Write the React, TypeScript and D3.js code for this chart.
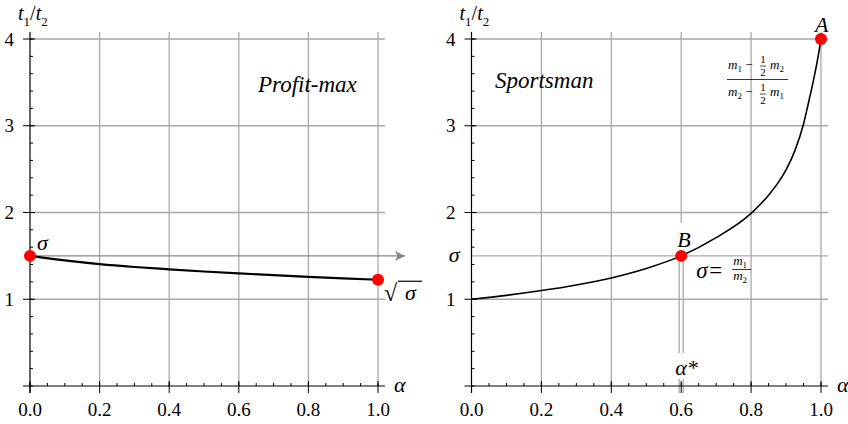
import React from "react";
import * as d3 from "d3";

// values
const alphaTicks = [0, 0.2, 0.4, 0.6, 0.8, 1.0];
const ratioTicks = [1, 2, 3, 4];
const sigma = 1.5;
const alphaStar = 0.6;

const profitAlpha = [0, 0.1, 0.2, 0.3, 0.4, 0.5, 0.6, 0.7, 0.8, 0.9, 1.0];
const profitRatio = [1.5, 1.448, 1.405, 1.372, 1.345, 1.32, 1.298, 1.278, 1.259, 1.241, 1.2247];

const sportAlpha = [0, 0.1, 0.2, 0.3, 0.4, 0.5, 0.6, 0.7, 0.8, 0.85, 0.875, 0.9, 0.925, 0.95, 0.965, 0.975, 0.99, 1.0];
const sportRatio = [1, 1.045, 1.1, 1.165, 1.246, 1.355, 1.5, 1.71, 1.99, 2.2, 2.33, 2.49, 2.71, 3.02, 3.28, 3.46, 3.76, 4.0];

const W = 848;
const H = 424;
const SERIF =
  "'Liberation Serif', 'Times New Roman', Times, Tinos, 'Nimbus Roman', 'Nimbus Roman No9 L', FreeSerif, 'Noto Serif', 'DejaVu Serif', serif";
const GRID = "#a9a9a9";

const y = d3.scaleLinear().domain([0, 4]).range([386, 39]);

type Pt = [number, number];
const zip = (a: number[], b: number[]): Pt[] => a.map((v, i) => [v, b[i]]);

function Axes({ x }: { x: d3.ScaleLinear<number, number> }) {
  const x0 = x(0);
  const y0 = y(0);
  const minorX = d3.range(0, 1.0001, 0.05);
  const minorY = d3.range(0, 4.0001, 0.2);
  return (
    <g>
      {/* x axis */}
      <line x1={x0 - 7} x2={x(1) + 7} y1={y0} y2={y0} stroke="#000" strokeWidth={1.2} />
      {minorX.map((v, i) => (
        <line key={"mx" + i} x1={x(v)} x2={x(v)} y1={y0 - 3} y2={y0} stroke="#000" strokeWidth={1} />
      ))}
      {alphaTicks.map((v) => (
        <g key={"tx" + v}>
          <line x1={x(v)} x2={x(v)} y1={y0 - 5} y2={y0 + 7} stroke="#000" strokeWidth={1} />
          <text x={x(v)} y={416} textAnchor="middle" fontSize={19}>
            {d3.format(".1f")(v)}
          </text>
        </g>
      ))}
      <text x={x(1) + 16} y={y0 + 6} fontSize={22} fontStyle="italic">α</text>

      {/* y axis */}
      <line x1={x0} x2={x0} y1={y0 + 7} y2={32} stroke="#000" strokeWidth={1.2} />
      {minorY.map((v, i) => (
        <line key={"my" + i} x1={x0} x2={x0 + 3} y1={y(v)} y2={y(v)} stroke="#000" strokeWidth={1} />
      ))}
      {ratioTicks.map((v) => (
        <g key={"ty" + v}>
          <line x1={x0 - 7} x2={x0 + 5} y1={y(v)} y2={y(v)} stroke="#000" strokeWidth={1} />
          <text x={x0 - 16} y={y(v) + 6.5} textAnchor="end" fontSize={19}>
            {v}
          </text>
        </g>
      ))}
      <text x={x0 - 12} y={20} fontSize={20} fontStyle="italic">
        t<tspan dy={6} fontSize={13} fontStyle="normal">1</tspan>
        <tspan dy={-6} fontStyle="normal">/</tspan>t
        <tspan dy={6} fontSize={13} fontStyle="normal">2</tspan>
      </text>
    </g>
  );
}

function Grid({ x, skipAt, cutAt }: { x: d3.ScaleLinear<number, number>; skipAt?: number; cutAt?: number }) {
  return (
    <g stroke={GRID} strokeWidth={1.3}>
      {alphaTicks
        .filter((v) => v > 0)
        .map((v) => (
          <line
            key={"gx" + v}
            x1={x(v)}
            x2={x(v)}
            y1={32}
            y2={skipAt === v && cutAt ? cutAt : y(0)}
          />
        ))}
      {ratioTicks.map((v) => (
        <line key={"gy" + v} x1={x(0)} x2={x(1) + 7} y1={y(v)} y2={y(v)} />
      ))}
    </g>
  );
}

export default function App() {
  const xL = d3.scaleLinear().domain([0, 1]).range([30, 378]);
  const xR = d3.scaleLinear().domain([0, 1]).range([471.5, 821]);

  const lineL = d3
    .line<Pt>()
    .x((d) => xL(d[0]))
    .y((d) => y(d[1]))
    .curve(d3.curveMonotoneX);
  const lineR = d3
    .line<Pt>()
    .x((d) => xR(d[0]))
    .y((d) => y(d[1]))
    .curve(d3.curveMonotoneX);

  const profit = zip(profitAlpha, profitRatio);
  const sport = zip(sportAlpha, sportRatio);
  const endL = profit[profit.length - 1];
  const endR = sport[sport.length - 1];
  const bx = xR(alphaStar);
  const by = y(sigma);

  return (
    <svg
      width={W}
      height={H}
      style={{ position: "absolute", left: 0, top: 0, background: "#fff", fontFamily: SERIF }}
    >
      <style>{`text { font-family: ${SERIF}; }`}</style>
      <defs>
        <marker id="arr" viewBox="0 0 10 10" refX={10} refY={5} markerWidth={14} markerHeight={10} markerUnits="userSpaceOnUse" orient="auto">
          <path d="M0,0 L10,5 L0,10 L2.5,5 Z" fill="#888" />
        </marker>
      </defs>

      {/* ---------- left: Profit-max ---------- */}
      <Grid x={xL} />
      <line x1={xL(0)} x2={xL(1) + 27} y1={y(sigma)} y2={y(sigma)} stroke="#888" strokeWidth={1.3} markerEnd="url(#arr)" />
      <Axes x={xL} />
      <path d={lineL(profit) || ""} fill="none" stroke="#000" strokeWidth={2.2} />
      <circle cx={xL(0)} cy={y(sigma)} r={6} fill="#f00" />
      <circle cx={xL(endL[0])} cy={y(endL[1])} r={6} fill="#f00" />
      <text x={xL(0) + 7} y={y(sigma) - 6} fontSize={22} fontStyle="italic">σ</text>
      <g>
        <text x={xL(1) + 6} y={y(endL[1]) + 21} fontSize={24}>√</text>
        <line x1={xL(1) + 20} x2={xL(1) + 44} y1={y(endL[1]) + 1.5} y2={y(endL[1]) + 1.5} stroke="#000" strokeWidth={1.2} />
        <text x={xL(1) + 27} y={y(endL[1]) + 20} fontSize={22} fontStyle="italic">σ</text>
      </g>
      <text x={258} y={92} fontSize={23} fontStyle="italic">Profit-max</text>

      {/* ---------- right: Sportsman ---------- */}
      <Grid x={xR} skipAt={alphaStar} cutAt={223} />
      <line x1={xR(0)} x2={xR(1) + 7} y1={by} y2={by} stroke={GRID} strokeWidth={1.3} />
      <g stroke={GRID} strokeWidth={1.3}>
        <line x1={bx - 2} x2={bx - 2} y1={by} y2={353} />
        <line x1={bx + 2} x2={bx + 2} y1={by} y2={353} />
        <line x1={bx - 2} x2={bx - 2} y1={379} y2={393} />
        <line x1={bx + 2} x2={bx + 2} y1={379} y2={393} />
      </g>
      <Axes x={xR} />
      <path d={lineR(sport) || ""} fill="none" stroke="#000" strokeWidth={1.6} />
      <circle cx={bx} cy={by} r={6} fill="#f00" />
      <circle cx={xR(endR[0])} cy={y(endR[1])} r={6} fill="#f00" />
      <text x={xR(0) - 12} y={by + 6} textAnchor="end" fontSize={22} fontStyle="italic">σ</text>
      <text x={bx - 4} y={247} fontSize={22} fontStyle="italic">B</text>
      <text x={xR(1) - 6} y={32} fontSize={22} fontStyle="italic">A</text>
      <text x={bx - 6} y={375} fontSize={22} fontStyle="italic">α*</text>
      <text x={495} y={88} fontSize={23} fontStyle="italic">Sportsman</text>

      {/* sigma = m1/m2 */}
      <text x={bx + 15} y={278} fontSize={23} fontStyle="italic">σ</text>
      <text x={bx + 28} y={278} fontSize={23}>=</text>
      <text x={bx + 52} y={265} fontSize={13} fontStyle="italic">m<tspan dy={3} fontSize={9} fontStyle="normal">1</tspan></text>
      <line x1={bx + 51} x2={bx + 70} y1={269.5} y2={269.5} stroke="#000" strokeWidth={0.8} />
      <text x={bx + 52} y={280} fontSize={13} fontStyle="italic">m<tspan dy={3} fontSize={9} fontStyle="normal">2</tspan></text>

      {/* A label fraction */}
      <g fontSize={13}>
        <text x={728} y={69} fontStyle="italic">m<tspan dy={3} fontSize={9} fontStyle="normal">1</tspan><tspan dy={-3} fontStyle="normal"> − </tspan></text>
        <text x={763} y={63} fontSize={11} textAnchor="middle">1</text>
        <line x1={760} x2={766} y1={66} y2={66} stroke="#000" strokeWidth={0.7} />
        <text x={763} y={76} fontSize={11} textAnchor="middle">2</text>
        <text x={770} y={69} fontStyle="italic">m<tspan dy={3} fontSize={9} fontStyle="normal">2</tspan></text>

        <line x1={727} x2={788} y1={79.5} y2={79.5} stroke="#000" strokeWidth={0.8} />

        <text x={728} y={96} fontStyle="italic">m<tspan dy={3} fontSize={9} fontStyle="normal">2</tspan><tspan dy={-3} fontStyle="normal"> − </tspan></text>
        <text x={763} y={91} fontSize={11} textAnchor="middle">1</text>
        <line x1={760} x2={766} y1={94} y2={94} stroke="#000" strokeWidth={0.7} />
        <text x={763} y={104} fontSize={11} textAnchor="middle">2</text>
        <text x={770} y={96} fontStyle="italic">m<tspan dy={3} fontSize={9} fontStyle="normal">1</tspan></text>
      </g>
    </svg>
  );
}
